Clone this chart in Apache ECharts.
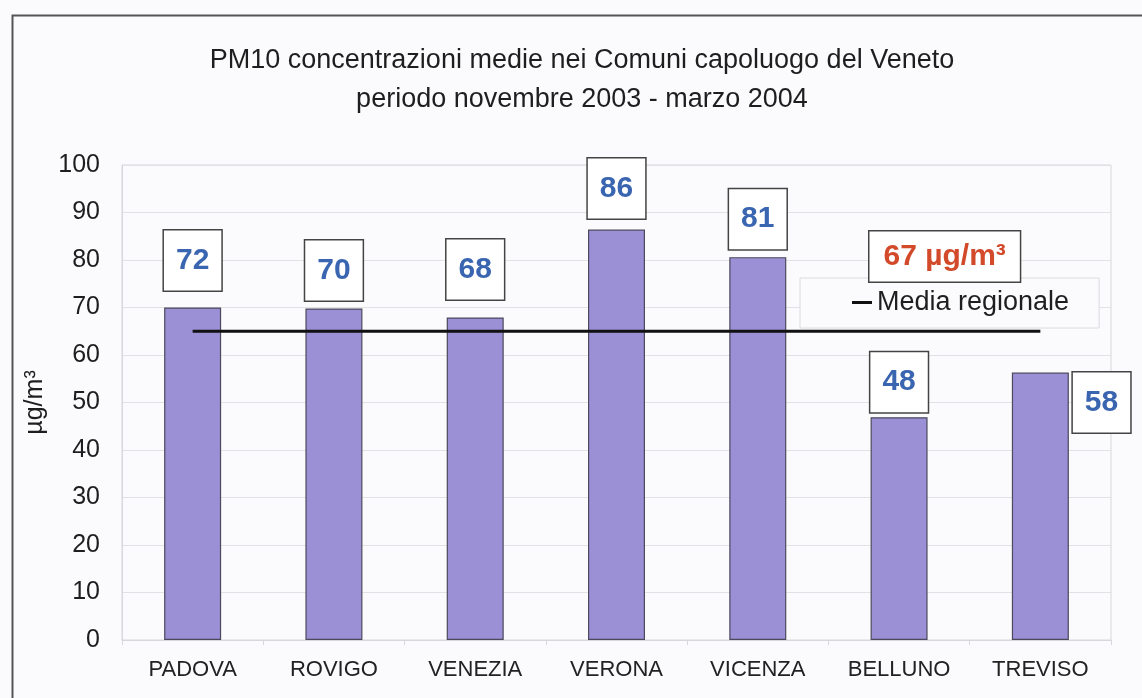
<!DOCTYPE html>
<html><head><meta charset="utf-8">
<script src="https://cdn.jsdelivr.net/npm/echarts@6/dist/echarts.min.js"></script>
<style>html,body{margin:0;padding:0;background:#fbfbfd;}#c{width:1142px;height:698px;}</style>
</head><body><div id="c"></div>
<script>
const categories = ['PADOVA','ROVIGO','VENEZIA','VERONA','VICENZA','BELLUNO','TREVISO'];
const barValues = [70, 69.8, 67.9, 86.4, 80.6, 46.9, 56.3];
const labelValues = ['72','70','68','86','81','48','58'];
const regionalLine = [65, 65, 65, 65, 65, 65, 65];
const yTicks = [0,10,20,30,40,50,60,70,80,90,100];
const regionalNote = '67 µg/m³';
const titleLines = ['PM10 concentrazioni medie nei Comuni capoluogo del Veneto', 'periodo novembre 2003 - marzo 2004'];

const labelDist = [17, 8, 18, 11, 8, 5, 0];
const font = '"Liberation Sans", Arial, sans-serif';

const chart = echarts.init(document.getElementById('c'), null, {renderer:'canvas'});
const labelBase = {
  show: true, color:'#3a65b0', fontWeight:'bold', fontSize:30, fontFamily: font,
  backgroundColor:'#ffffff', borderColor:'#444', borderWidth:1.5,
  padding:[15,12,15,12], lineHeight:30
};
const barData = barValues.map((v,i)=>{
  const lab = Object.assign({}, labelBase, {formatter: labelValues[i]});
  if (i === 6) { lab.position = [61, 0]; lab.align='left'; lab.verticalAlign='top'; }
  else { lab.position = 'top'; lab.distance = labelDist[i]; }
  return {value: v, label: lab};
});

chart.setOption({
  backgroundColor:'#fbfbfd',
  animation:false,
  grid:{left:122, right:31, top:165, bottom:58, show:true, borderColor:'#d8d8dc', borderWidth:1, backgroundColor:'transparent'},
  legend:{
    data:[{name:'Media regionale', icon:'rect', itemStyle:{color:'#111'}}],
    left:800, top:278, width:290,
    itemWidth:20, itemHeight:3, itemGap:6,
    backgroundColor:'#fbfbfd', borderColor:'#dcdce0', borderWidth:1,
    padding:[11,30,12,52],
    textStyle:{fontFamily:font, fontSize:27, color:'#1e1e1e', padding:[0,0,0,0]}
  },
  xAxis:{
    type:'category', data:categories, boundaryGap:true,
    axisLine:{show:true, lineStyle:{color:'#d8d8dc'}},
    axisTick:{show:true, length:5, lineStyle:{color:'#d8d8dc'}},
    axisLabel:{fontFamily:font, fontSize:22, color:'#222', margin:19}
  },
  yAxis:{
    type:'value', min:0, max:100, interval:10,
    name:'µg/m³', nameLocation:'middle', nameGap:68, nameRotate:90,
    nameTextStyle:{fontFamily:font, fontSize:25, color:'#1e1e1e'},
    axisLine:{show:true, lineStyle:{color:'#d8d8dc'}},
    axisTick:{show:false},
    axisLabel:{fontFamily:font, fontSize:25, color:'#1e1e1e', margin:22,
      formatter:(v)=> yTicks.includes(v) ? String(v) : ''},
    splitLine:{show:true, lineStyle:{color:'#e2e2e6', width:1}}
  },
  series:[
    {type:'bar', data:barData, barWidth:57, z:2,
     itemStyle:{color:'#9b8fd6', borderColor:'#4a4a5c', borderWidth:1.2}},
    {type:'line', name:'Media regionale', data:regionalLine, z:5, symbol:'none',
     lineStyle:{color:'#111', width:3}, itemStyle:{color:'#111'}}
  ],
  graphic:[
    {type:'rect', left:10, top:13, shape:{width:1140, height:690}, style:{fill:'none', stroke:'#555', lineWidth:2}, silent:true},
    {type:'text', x:582, y:61, style:{text:titleLines[0], fill:'#1e1e1e', font:'27px "Liberation Sans", Arial, sans-serif', textAlign:'center', textVerticalAlign:'middle'}},
    {type:'text', x:582, y:100, style:{text:titleLines[1], fill:'#1e1e1e', font:'27px "Liberation Sans", Arial, sans-serif', textAlign:'center', textVerticalAlign:'middle'}},
    {type:'text', left:868, top:230, z:10,
     style:{text: regionalNote, fill:'#d24a2a', font:'bold 30px "Liberation Sans", Arial, sans-serif',
       backgroundColor:'#fff', borderColor:'#444', borderWidth:1.5, padding:[10,14,10,14]}}
  ]
});
</script></body></html>
